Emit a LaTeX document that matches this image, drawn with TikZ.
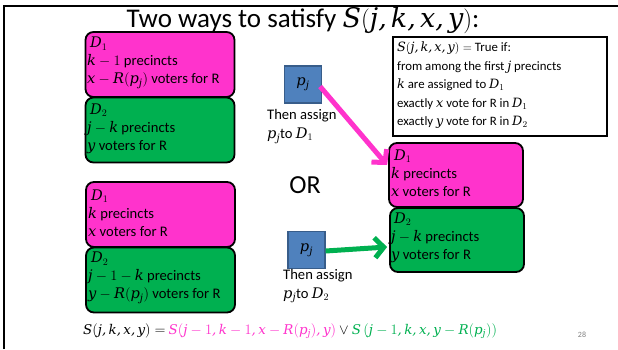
\documentclass[tikz,border=0pt]{standalone}
\usepackage{fontspec}
\setmainfont{Carlito}
\newfontfamily\mathletterfont[NFSSFamily=mathser]{DejaVu Serif}
\DeclareSymbolFont{letters}{TU}{mathser}{m}{it}
\DeclareSymbolFont{operators}{TU}{mathser}{m}{n}
\AtBeginDocument{\mathcode`\,="612C}
\usetikzlibrary{arrows.meta,calc}
\definecolor{mag}{RGB}{255,51,204}
\definecolor{grn}{RGB}{0,176,80}
\definecolor{blu}{RGB}{79,129,189}
\definecolor{bluD}{RGB}{56,93,138}
\begin{document}
\begin{tikzpicture}[x=1pt,y=-1pt,
  dbox/.style={draw=black,line width=1.8pt,rounded corners=8pt,minimum width=149pt,minimum height=65pt,inner sep=0pt},
  rbox/.style={draw=black,line width=1.8pt,rounded corners=8pt,minimum width=134pt,minimum height=64pt,inner sep=0pt},
  txt/.style={anchor=west,align=left,inner sep=0pt,font=\fontsize{14.6}{18}\selectfont},
  pjbox/.style={draw=bluD,line width=1.2pt,fill=blu,minimum width=37pt,minimum height=37pt,inner sep=0pt,font=\fontsize{14.6}{16}\selectfont},
  assign/.style={anchor=west,align=left,inner sep=0pt,font=\fontsize{14.6}{19}\selectfont},
  bigarrow/.style={line width=5pt,-{Straight Barb[length=9pt,width=20pt,line width=5pt]}}
  ]
\useasboundingbox (0,0) rectangle (618,349);
% frame
\draw[line width=2pt] (4,349) -- (4,6) -- (618,6);
% title
\node[inner sep=0pt,font=\fontsize{27}{29}\selectfont] (title) at (303,20) {Two ways to satisfy $S(j,k,x,y)$:};
% left top boxes
\node[dbox,fill=mag] (a1) at (160,64.5) {};
\node[dbox,fill=grn] (a2) at (160,130) {};
\node[txt] (a1t) at (87,63) {\hspace{3pt}$D_1$\\$k-1$ precincts\\$x-R(p_j)$ voters for R};
\node[txt] (a2t) at (87,129) {\hspace{3pt}$D_2$\\$j-k$ precincts\\$y$ voters for R};
% left bottom boxes
\node[dbox,fill=mag] (b1) at (160.5,214.5) {};
\node[dbox,fill=grn] (b2) at (160.5,280) {};
\node[txt] (b1t) at (88,213) {\hspace{3pt}$D_1$\\$k$ precincts\\$x$ voters for R};
\node[txt] (b2t) at (88,278) {\hspace{3pt}$D_2$\\$j-1-k$ precincts\\$y-R(p_j)$ voters for R};
% right boxes
\node[rbox,fill=mag] (c1) at (456,175) {};
\node[rbox,fill=grn] (c2) at (457,240) {};
\node[txt] (c1t) at (391,173) {\hspace{3pt}$D_1$\\$k$ precincts\\$x$ voters for R};
\node[txt] (c2t) at (391,238) {\hspace{3pt}$D_2$\\$j-k$ precincts\\$y$ voters for R};
% definition box
\node[draw=black,line width=1.8pt,minimum width=214pt,minimum height=99pt,inner sep=0pt] (def) at (500,86.5) {};
\node[anchor=west,align=left,inner sep=0pt,font=\fontsize{12.8}{18.5}\selectfont] (deft) at (397,85.5)
 {$S(j,k,x,y)=$ True if:\\from among the first $j$ precincts\\$k$ are assigned to $D_1$\\exactly $x$ vote for R in $D_1$\\exactly $y$ vote for R in $D_2$};
% pj boxes
\node[pjbox] (pj1) at (303,84.5) {$p_j$};
\node[assign] (as1) at (267,126.5) {Then assign\\$p_j$to $D_1$};
\node[inner sep=0pt,font=\fontsize{26}{28}\selectfont] (or) at (305,185) {OR};
\node[pjbox] (pj2) at (306.5,250) {$p_j$};
\node[assign] (as2) at (283,286) {Then assign\\$p_j$to $D_2$};
% arrows
\draw[bigarrow,draw=mag] ($(pj1.east)+(-2,2)$) -- ($(c1.west)+(-1,-10)$);
\draw[bigarrow,draw=grn] ($(pj2.east)+(0,1)$) -- ($(c2.west)+(-2,7)$);
% formula
\node[anchor=west,inner sep=0pt,font=\fontsize{13.4}{16}\selectfont] (form) at (83,331)
 {$S(j,k,x,y)=$ \textcolor{mag}{$S\mathopen{}\left(j-1,k-1,x-R\mathopen{}\left(p_j\right)\mathclose{},y\right)$} $\vee$ \textcolor{grn}{$S\left(j-1,k,x,y-R\mathopen{}\left(p_j\right)\mathclose{}\right)$}};
\node[inner sep=0pt,font=\fontsize{8}{9}\selectfont,text=gray] (pg) at (582,335) {28};
\end{tikzpicture}
\end{document}
